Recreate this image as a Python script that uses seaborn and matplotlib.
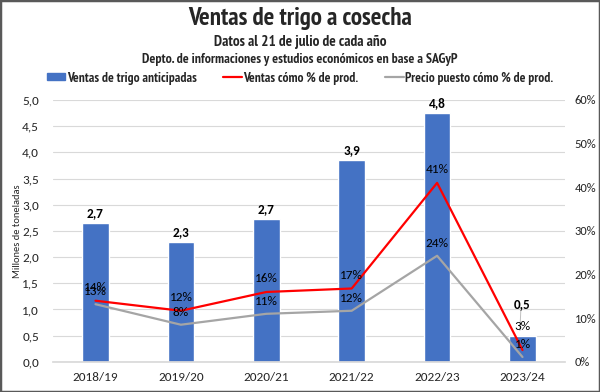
import numpy as np
import pandas as pd
import matplotlib
matplotlib.use("Agg")
import matplotlib.pyplot as plt
import seaborn as sns
from matplotlib.patches import Patch, Rectangle
from matplotlib.lines import Line2D
from matplotlib.ticker import FuncFormatter, MultipleLocator

campanias = ["2018/19", "2019/20", "2020/21", "2021/22", "2022/23", "2023/24"]
ventas_mt = [2.66, 2.28, 2.73, 3.86, 4.75, 0.50]
ventas_etiq = ["2,7", "2,3", "2,7", "3,9", "4,8", "0,5"]
ventas_pct = [14, 11.7, 16, 16.8, 41, 2.7]
ventas_pct_etiq = ["14%", "12%", "16%", "17%", "41%", "3%"]
precio_pct = [13.2, 8.5, 11, 11.7, 24.3, 1.1]
precio_pct_etiq = ["13%", "8%", "11%", "12%", "24%", "1%"]

sns.set_theme(style="white")
plt.rcParams['font.family'] = ['Carlito', 'Lato', 'DejaVu Sans']

AZUL = "#4472C4"
ROJO = "#FF0000"
GRIS = "#A5A5A5"
TIT = ["PT Sans Narrow", "Roboto Condensed", "Roboto", "DejaVu Sans"]

df = pd.DataFrame({"campania": campanias, "ventas": ventas_mt})
x = np.arange(len(campanias))

fig = plt.figure(figsize=(6, 3.92), dpi=100)
ax = fig.add_axes([0.088, 0.077, 0.854, 0.668])

sns.barplot(data=df, x="campania", y="ventas", color=AZUL, width=0.31,
            saturation=1, ax=ax, zorder=2)
ax.set_ylim(0, 5)
ax.set_xlim(-0.5, len(campanias) - 0.5)
ax.yaxis.set_major_locator(MultipleLocator(0.5))
ax.yaxis.set_major_formatter(FuncFormatter(lambda v, p: f"{v:.1f}".replace(".", ",")))
ax.grid(axis="y", color="#D9D9D9", linewidth=0.8, zorder=0)
ax.set_axisbelow(True)
ax.set_xlabel("")
ax.set_ylabel("Millones de toneladas", fontsize=7.5, labelpad=0)
ax.tick_params(axis="y", labelsize=9.5, length=0, pad=10)
ax.tick_params(axis="x", labelsize=9.5, length=0, pad=7)
for s in ["top", "right", "left"]:
    ax.spines[s].set_visible(False)
ax.spines["bottom"].set_color("#D9D9D9")

# etiqueta de la última barra desplazada hacia arriba con línea guía (como en el original)
for i, (xi, v, t) in enumerate(zip(x, ventas_mt, ventas_etiq)):
    dy = 0.6 if i == len(x) - 1 else 0.19
    ax.text(xi, v + dy, t, ha="center", va="center", fontsize=9.5,
            fontweight="bold", color="black", zorder=5)
    if i == len(x) - 1:
        ax.plot([xi - 0.02, xi - 0.03], [v + dy - 0.12, v + 0.1], color="#BFBFBF",
                linewidth=0.7, zorder=4)

ax2 = ax.twinx()
sns.lineplot(x=x, y=np.array(ventas_pct) / 100, color=ROJO, linewidth=1.6, ax=ax2)
sns.lineplot(x=x, y=np.array(precio_pct) / 100, color=GRIS, linewidth=1.6, ax=ax2)
ax2.set_ylim(0, 0.6)
ax2.yaxis.set_major_locator(MultipleLocator(0.1))
ax2.yaxis.set_major_formatter(FuncFormatter(lambda v, p: f"{v*100:.0f}%"))
ax2.tick_params(axis="y", labelsize=9, length=0, pad=7)
for s in ax2.spines.values():
    s.set_visible(False)

for i, (xi, v, t) in enumerate(zip(x, ventas_pct, ventas_pct_etiq)):
    dy = 0.053 if i == len(x) - 1 else 0.03
    ax2.text(xi, v / 100 + dy, t, ha="center", va="center", fontsize=9.5, color="black")
for xi, v, t in zip(x, precio_pct, precio_pct_etiq):
    ax2.text(xi, v / 100 + 0.029, t, ha="center", va="center", fontsize=9.5, color="black")

fig.text(0.5, 0.953, "Ventas de trigo a cosecha", ha="center", va="center",
         fontsize=18, fontweight="bold", family=TIT)
fig.text(0.5, 0.893, "Datos al 21 de julio de cada año", ha="center", va="center",
         fontsize=11, fontweight="bold", family=TIT)
fig.text(0.5, 0.847, "Depto. de informaciones y estudios económicos en base a SAGyP", ha="center",
         va="center", fontsize=9.9, fontweight="bold", family=TIT)

handles = [Patch(facecolor=AZUL, edgecolor=AZUL),
           Line2D([0], [0], color=ROJO, linewidth=1.6),
           Line2D([0], [0], color=GRIS, linewidth=1.6)]
labels = ["Ventas de trigo anticipadas", "Ventas cómo % de prod.", "Precio puesto cómo % de prod."]
fig.legend(handles, labels, loc="center", bbox_to_anchor=(0.5, 0.801), ncol=3, frameon=False,
           prop={"family": TIT, "weight": "bold", "size": 9.6},
           handlelength=1.4, handleheight=0.45, handletextpad=0.1, columnspacing=2.0)

fig.patches.append(Rectangle((0, 0), 1, 1, transform=fig.transFigure, fill=False,
                             edgecolor="#595959", linewidth=2.5))

plt.savefig("out.png", dpi=100)
